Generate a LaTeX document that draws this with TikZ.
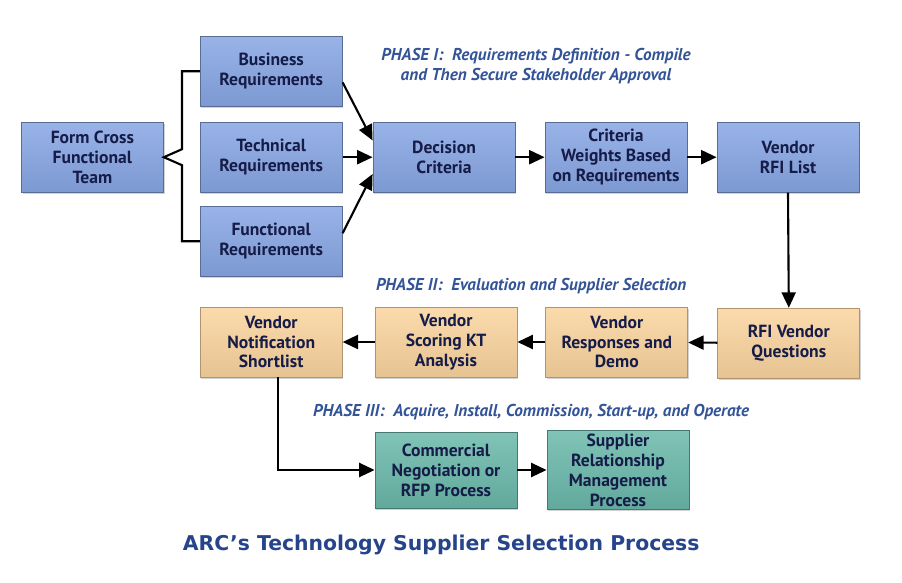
\documentclass[tikz,border=0pt]{standalone}
\usepackage{fontspec}
\setmainfont{PT Sans}
\newfontfamily\titlefont{DejaVu Sans}
\usepackage{xcolor}
\definecolor{boxblue}{RGB}{135,166,228}
\definecolor{boxpeach}{RGB}{250,212,158}
\definecolor{boxteal}{RGB}{106,184,170}
\definecolor{textnavy}{RGB}{22,28,72}
\definecolor{phaseblue}{RGB}{52,84,152}
\definecolor{titleblue}{RGB}{38,68,138}
\usepackage{tikz}
\usetikzlibrary{arrows.meta,positioning,calc,shadows}

\begin{document}
\begin{tikzpicture}[
  font=\fontsize{12.5}{14.2}\selectfont\bfseries,
  stepbox/.style={rectangle, line width=0.6pt, minimum width=3.55cm, minimum height=1.75cm,
    align=center, text=textnavy, inner sep=2pt,
    drop shadow={shadow xshift=0.8pt, shadow yshift=-1.2pt, opacity=0.35}},
  bluebox/.style={stepbox, draw=boxblue!65!black, top color=boxblue!85!white, bottom color=boxblue!92!black},
  peachbox/.style={stepbox, draw=boxpeach!70!black, top color=boxpeach!85!white, bottom color=boxpeach!92!black},
  tealbox/.style={stepbox, minimum height=1.9cm, draw=boxteal!65!black, top color=boxteal!85!white, bottom color=boxteal!92!black},
  phase/.style={font=\fontsize{12.2}{14}\selectfont\bfseries\itshape, text=phaseblue, align=center},
  arr/.style={-{Triangle[length=11pt,width=10pt]}, line width=1.5pt, color=black},
  brk/.style={line width=1.5pt, color=black}
]
\useasboundingbox (0,0) rectangle (22.55,-14.55);

%% Phase I
\node[bluebox] (fct) at (2.31,-3.93) {Form Cross\\Functional\\Team};
\node[bluebox] (bus) at (6.78,-1.78) {Business\\Requirements};
\node[bluebox] (tec) at (6.78,-3.93) {Technical\\Requirements};
\node[bluebox] (fun) at (6.78,-6.03) {Functional\\Requirements};
\node[bluebox] (dec) at (11.10,-3.93) {Decision\\Criteria};
\node[bluebox] (cwb) at (15.40,-3.93) {Criteria\\Weights Based\\on Requirements};
\node[bluebox] (rfil) at (19.70,-3.93) {Vendor\\RFI List};

%% Phase II
\node[peachbox] (rfiq) at (19.72,-8.58) {RFI Vendor\\Questions};
\node[peachbox] (resp) at (15.42,-8.55) {Vendor\\Responses and\\Demo};
\node[peachbox] (scor) at (11.15,-8.55) {Vendor\\Scoring KT\\Analysis};
\node[peachbox] (shrt) at (6.78,-8.55) {Vendor\\Notification\\Shortlist};

%% Phase III
\node[tealbox] (comm) at (11.15,-11.75) {Commercial\\Negotiation or\\RFP Process};
\node[tealbox] (srm) at (15.45,-11.75) {Supplier\\Relationship\\Management\\Process};

%% phase labels
\node[phase] (ph1) at (13.4,-1.66) {PHASE I:\ \ Requirements Definition - Compile\\and Then Secure Stakeholder Approval};
\node[phase] (ph2) at (13.28,-7.15) {PHASE II:\ \ Evaluation and Supplier Selection};
\node[phase] (ph3) at (13.28,-10.3) {PHASE III:\ \ Acquire, Install, Commission, Start-up, and Operate};

%% title
\node[font=\titlefont\bfseries\fontsize{14.5}{17}\selectfont, text=titleblue] (ttl) at (11.03,-13.63)
  {ARC’s Technology Supplier Selection Process};

%% bracket from team
\coordinate (bk) at (4.55,-3.93);
\draw[brk] (bus.west) -| ($(bk)+(0,0.2)$) -- (fct.east) -- ($(bk)+(0,-0.2)$) |- (fun.west);

%% arrows into decision criteria
\draw[arr] ([yshift=-0.28cm]bus.east) -- ([yshift=0.42cm]dec.west);
\draw[arr] (tec.east) -- (dec.west);
\draw[arr] ([yshift=0.2cm]fun.east) -- ([yshift=-0.42cm]dec.west);

\draw[arr] (dec) -- (cwb);
\draw[arr] (cwb) -- (rfil);
\draw[arr] (rfil.south) -- (rfiq.north);
\draw[arr] (rfiq) -- (resp);
\draw[arr] (resp) -- (scor);
\draw[arr] (scor) -- (shrt);
\draw[arr] ([xshift=0.17cm]shrt.south) |- (comm.west);
\draw[arr] (comm) -- (srm);

\end{tikzpicture}
\end{document}
